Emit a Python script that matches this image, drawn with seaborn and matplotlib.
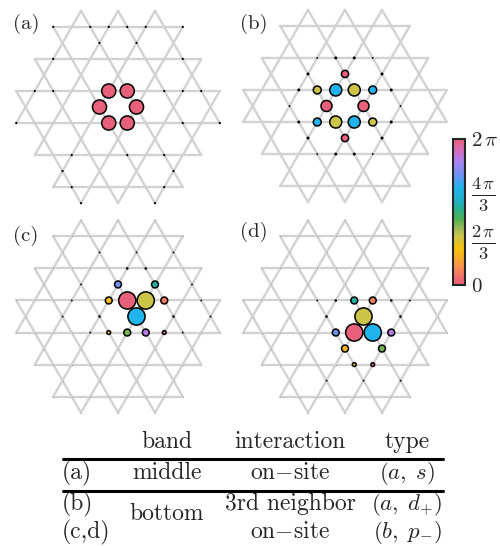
import numpy as np
import pandas as pd
import matplotlib
matplotlib.use("Agg")
import matplotlib.pyplot as plt
from matplotlib.collections import LineCollection
from matplotlib.colors import LinearSegmentedColormap, Normalize
from matplotlib.cm import ScalarMappable
from matplotlib.lines import Line2D
import seaborn as sns

sns.set_style("white")
plt.rcParams["font.family"] = ["cmr10", "DejaVu Serif"]
plt.rcParams["mathtext.fontset"] = "cm"
plt.rcParams["axes.formatter.use_mathtext"] = True

# sites are given as (i, j): x = i/4, y = j*sqrt(3)/4 (lattice constant 1)
# phases in units of pi

# (a) middle band, on-site
a_i = [-2, 2, -1, 1, -1, 1]
a_j = [0, 0, 1, 1, -1, -1]
a_amp = [0.41, 0.41, 0.41, 0.41, 0.41, 0.41]
a_phase = [0, 0, 0, 0, 0, 0]
a_dot_i = [-7, -3, -1, 1, 3, 7, -2, 2, -7, 7, -9, -7, 5, 7, 9, -11, 7, 11, -5, 1, 5, -6, 6, -5, 5, -4, 4]
a_dot_j = [5, 5, 5, 5, 5, 5, 4, 4, 3, 3, 1, 1, 1, 1, 1, -1, -1, -1, -3, -3, -3, -4, -4, -5, -5, -6, -6]

# (b) bottom band, 3rd neighbor
b_i = [-1, 1, -1, 1, -2, 2, -3, 3, -3, 3, 0, 0]
b_j = [1, 1, -1, -1, 0, 0, 1, 1, -1, -1, 2, -2]
b_amp = [0.35, 0.35, 0.35, 0.35, 0.32, 0.32, 0.23, 0.23, 0.23, 0.23, 0.21, 0.21]
b_phase = [4/3, 2/3, 2/3, 4/3, 2.0, 2.0, 2/3, 4/3, 4/3, 2/3, 2.0, 2.0]
b_dot_i = [-1, 1, -1, 1, -4, 4, -4, 4, -5, 5, -5, 5, -6, 6, -3, 3, -3, 3]
b_dot_j = [3, 3, -3, -3, 2, 2, -2, -2, 1, 1, -1, -1, 0, 0, 3, 3, -3, -3]
b_dot_amp = [0.08] * 12 + [0.05] * 6

# (c) bottom band, on-site
c_i = [-1, 5, 1, 3, 0, 4, -1, 5, 1, 3, 2]
c_j = [-1, -1, -1, -1, 2, 2, 1, 1, 1, 1, 0]
c_amp = [0.11, 0.11, 0.2, 0.2, 0.2, 0.2, 0.2, 0.2, 0.5, 0.5, 0.5]
c_phase = [0.5, 1.9, 0.84, 1.74, 1.5, 1.08, 0.46, 0.16, 0.0, 2/3, 4/3]
c_dot_i = [1, 3, -2, 6, -3, 7, -2, 2, 6, -4, 8, -5, 9, -6, 10]
c_dot_j = [3, 3, 0, 0, -1, -1, 4, 4, 4, 2, 2, 1, 1, 0, 0]
c_dot_amp = [0.07] * 4 + [0.05] * 11

# (d) bottom band, on-site
d_i = [1, 3, 1, 3, -1, 5, 0, 4, 2, 1, 3]
d_j = [-3, -3, 1, 1, -1, -1, -2, -2, 0, -1, -1]
d_amp = [0.11, 0.11, 0.2, 0.2, 0.2, 0.2, 0.2, 0.2, 0.5, 0.5, 0.5]
d_phase = [0.5, 1.9, 1.08, 0.16, 1.5, 1.74, 0.46, 0.84, 2/3, 0.0, 4/3]
d_dot_i = [-2, 6, -1, 5, -3, 7, 2, -2, 6]
d_dot_j = [0, 0, 1, 1, 1, 1, -4, -4, -4]
d_dot_amp = [0.07] * 4 + [0.05] * 5

# table
table_header = ["band", "interaction", "type"]
table_rows = [
    ["(a)", "middle", r"on$-$site", r"$(a,\;s)$"],
    ["(b)", "", "3rd neighbor", r"$(a,\;d_{+})$"],
    ["(c,d)", "", r"on$-$site", r"$(b,\;p_{-})$"],
]

phase_cmap = LinearSegmentedColormap.from_list("phase", [
    (0.00, "#e8607a"), (0.05, "#f06c6c"), (0.12, "#f89050"), (0.20, "#f8b020"),
    (0.25, "#f5c010"), (0.30, "#dcc234"), (0.34, "#c8c44c"), (0.40, "#8cb858"),
    (0.45, "#50b050"), (0.52, "#28b090"), (0.58, "#20b0c8"), (0.667, "#20b4ec"),
    (0.75, "#6a92f2"), (0.85, "#ac82f0"), (0.93, "#d86cb8"), (1.00, "#e8607a"),
])
norm = Normalize(0, 2)

W, H, DPI = 500, 546, 100
UNIT = 37.0  # pixels per lattice constant
PT = UNIT * 72 / DPI


def kagome(radius=2.79):
    pts = []
    for j in range(-8, 9):
        for i in range(-16, 17):
            if j % 2 != 0:
                ok = i % 2 != 0
            elif j % 4 == 0:
                ok = i % 4 == 2
            else:
                ok = i % 4 == 0
            if not ok:
                continue
            x, y = i / 4, j * np.sqrt(3) / 4
            if np.hypot(x, y) <= radius:
                pts.append((x, y))
    pts = np.array(pts)
    segs = []
    for p in range(len(pts)):
        for q in range(p + 1, len(pts)):
            if abs(np.hypot(*(pts[p] - pts[q])) - 0.5) < 1e-6:
                segs.append([pts[p], pts[q]])
    return pts, segs


sites, bonds = kagome()


def to_xy(i, j):
    return np.array(i) / 4, np.array(j) * np.sqrt(3) / 4


def panel(cx, cy, si, sj, amp, phase, di, dj, damp, floor=False):
    ax = fig.add_axes([(cx - 111) / W, (H - cy - 103.6) / H, 222 / W, 207.2 / H])
    ax.set_xlim(-3, 3)
    ax.set_ylim(-2.8, 2.8)
    ax.axis("off")
    ax.add_collection(LineCollection(bonds, colors="#d2d2d2", linewidths=1.7,
                                     capstyle="round", zorder=1))
    if floor:
        ax.scatter(sites[:, 0], sites[:, 1], s=0.6, color="#9a9a9a", lw=0, zorder=2)
    if len(di):
        dx, dy = to_xy(di, dj)
        ax.scatter(dx, dy, s=(np.array(damp) * PT) ** 2, color="black", lw=0, zorder=2)
    x, y = to_xy(si, sj)
    df = pd.DataFrame({"x": x, "y": y, "phase": phase, "amp": amp})
    sns.scatterplot(data=df, x="x", y="y", hue="phase", palette=phase_cmap,
                    hue_norm=norm, legend=False, edgecolor="black", linewidth=1.1,
                    ax=ax, zorder=3)
    ax.collections[-1].set_sizes((df["amp"].to_numpy() * 0.93 * PT) ** 2)
    ax.set_xlabel("")
    ax.set_ylabel("")
    return ax


fig = plt.figure(figsize=(W / DPI, H / DPI), dpi=DPI)

panel(118, 107, a_i, a_j, a_amp, a_phase, a_dot_i, a_dot_j, [0.06] * len(a_dot_i))
panel(345, 106, b_i, b_j, b_amp, b_phase, b_dot_i, b_dot_j, b_dot_amp)
panel(118, 316.5, c_i, c_j, c_amp, c_phase, c_dot_i, c_dot_j, c_dot_amp, floor=True)
panel(345, 316.5, d_i, d_j, d_amp, d_phase, d_dot_i, d_dot_j, d_dot_amp, floor=True)

for lab, px, py in [("(a)", 13, 24), ("(b)", 240, 24), ("(c)", 13, 236), ("(d)", 240, 232)]:
    fig.text(px / W, 1 - py / H, lab, ha="left", va="center", fontsize=15)

# colorbar
cax = fig.add_axes([453 / W, (H - 285) / H, 12 / W, 146 / H])
cb = fig.colorbar(ScalarMappable(norm=norm, cmap=phase_cmap), cax=cax,
                  ticks=[0, 2 / 3, 4 / 3, 2])
cb.ax.set_yticklabels([r"$0$", r"$\frac{2\,\pi}{3}$", r"$\frac{4\,\pi}{3}$", r"$2\,\pi$"])
cb.ax.tick_params(direction="in", length=3, width=1.2, labelsize=15, pad=4)
for lbl, size in zip(cb.ax.get_yticklabels(), [15, 19, 19, 15]):
    lbl.set_fontsize(size)
cb.outline.set_linewidth(1.5)

# table
fs = 17
col_x = [62, 167, 290, 407]
for txt, x in zip(table_header, col_x[1:]):
    fig.text(x / W, 1 - 448 / H, txt, ha="center", va="baseline", fontsize=fs)
for row, yb in zip(table_rows, [479, 510, 538]):
    fig.text(col_x[0] / W, 1 - yb / H, row[0], ha="left", va="baseline", fontsize=fs)
    for txt, x in zip(row[1:], col_x[1:]):
        if txt:
            fig.text(x / W, 1 - yb / H, txt, ha="center", va="baseline",
                     fontsize=fs - 0.5 if txt.startswith("$") else fs)
fig.text(col_x[1] / W, 1 - 520 / H, "bottom", ha="center", va="baseline", fontsize=fs)
for yl in [459, 491]:
    fig.add_artist(Line2D([63 / W, 443 / W], [1 - yl / H] * 2, color="black", lw=2.2))

fig.savefig("out.png", dpi=DPI)
